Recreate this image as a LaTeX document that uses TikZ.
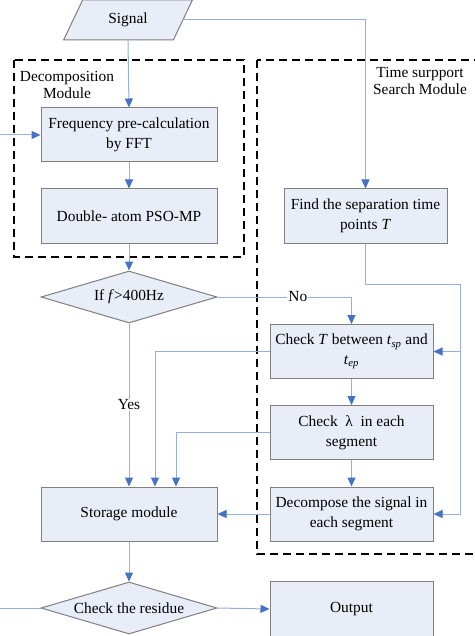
\documentclass[tikz,border=0pt]{standalone}
\usepackage{fontspec}
\setmainfont{Liberation Serif}
\usepackage{xcolor}
\usetikzlibrary{positioning,arrows.meta,shapes.geometric}

\definecolor{boxfill}{HTML}{E8EDF7}
\definecolor{boxline}{HTML}{7F7F7F}
\definecolor{linkblue}{HTML}{95AFDB}
\definecolor{tipblue}{HTML}{4472C4}

\tikzset{
  base/.style={draw=boxline, fill=boxfill, line width=1pt, align=center,
    font=\fontsize{15.4}{19.5}\selectfont},
  proc/.style={base, rectangle, minimum width=#1, minimum height=54pt, inner sep=2pt},
  proc/.default=176pt,
  dec/.style={base, diamond, aspect=3.38, inner sep=0pt, minimum width=176pt, minimum height=52pt},
  io/.style={base, trapezium, trapezium left angle=65, trapezium right angle=115,
    trapezium stretches=true, minimum width=129pt, minimum height=40pt},
  modbox/.style={draw=black, line width=1.6pt, dash pattern=on 8pt off 5pt},
  link/.style={draw=linkblue, line width=1pt, -{Triangle[length=9pt, width=8pt, color=tipblue]}},
  plain/.style={draw=linkblue, line width=1pt},
  lbl/.style={fill=white, inner sep=1pt, font=\fontsize{15.4}{19.5}\selectfont}
}

\begin{document}
\begin{tikzpicture}[x=1pt, y=-1pt]
\useasboundingbox (0,0) rectangle (474,636);

% module frames
\draw[modbox] (14,60) rectangle (244,257);
\draw[modbox] (257,60) rectangle (480,554);
\node[align=center, font=\fontsize{15.4}{17}\selectfont] (declbl) at (67,85) {Decomposition\\Module};
\node[align=center, font=\fontsize{15.4}{17}\selectfont] (tslbl) at (420,81) {Time surpport\\Search Module};

% left column
\node[io] (signal) at (128,20) {Signal};
\node[proc] (freq) at (129,135) {Frequency pre-calculation\\by FFT};
\node[proc] (dbl) at (129,216) {Double- atom PSO-MP};
\node[dec] (freqdec) at (129,297) {If \textit{f}>400Hz};
\node[proc] (store) at (129,514) {Storage module};
\node[dec] (resdec) at (129,608) {Check the residue};

% right column
\node[proc=163pt] (find) at (365.5,216) {Find the separation time\\points \textit{T}};
\node[proc=163pt] (checkT) at (351.5,351.5) {Check \textit{T} between \textit{t}\textsubscript{\textit{sp}} and\\\textit{t}\textsubscript{\textit{ep}}};
\node[proc=163pt] (checkL) at (351.5,432.5) {Check \ λ \ in each\\segment};
\node[proc=163pt] (decomp) at (351.5,514) {Decompose the signal in\\each segment};
\node[proc=163pt, minimum height=56pt] (output) at (351.5,609) {Output};

% loose ends
\coordinate (loopin) at (0,135);
\coordinate (loopout) at (0,608);
\coordinate (turn) at (460,284);

% links
\draw[link] (signal.south) -- (freq.north);
\draw[link] (signal.east) -| (find.north);
\draw[link] (loopin) -- (freq.west);
\draw[link] (freq.south) -- (dbl.north);
\draw[link] (dbl.south) -- (freqdec.north);
\draw[link] (freqdec.east) -| node[lbl, pos=0.3] (no) {No} (checkT.north);
\draw[link] (freqdec.south) -- node[lbl] (yes) {Yes} (store.north);
\draw[link] (find.south) |- (turn) |- (decomp.east);
\draw[link] (turn) |- (checkT.east);
\draw[link] (checkT.south) -- (checkL.north);
\draw[link] (checkL.south) -- (decomp.north);
\draw[link] (checkT.west) -| ([xshift=26pt]store.north);
\draw[link] (checkL.west) -| ([xshift=47pt]store.north);
\draw[link] (decomp.west) -- (store.east);
\draw[link] (store.south) -- (resdec.north);
\draw[link] (resdec.east) -- (output.west);
\draw[plain] (resdec.west) -- (loopout);
\end{tikzpicture}
\end{document}
